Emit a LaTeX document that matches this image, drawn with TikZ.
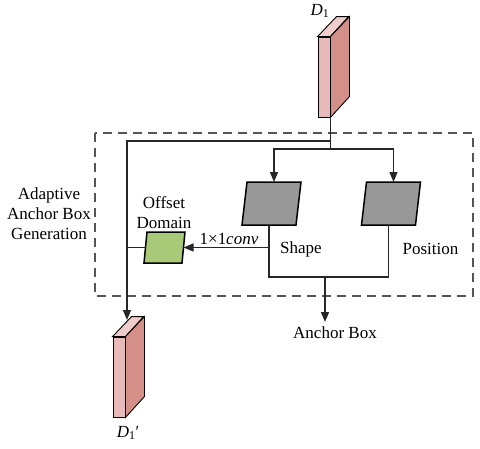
\documentclass[tikz,border=0pt]{standalone}
\usepackage{fontspec}
\setmainfont{Liberation Serif}
\usepackage{tikz}
\usetikzlibrary{arrows.meta, positioning, calc}
\definecolor{cfront}{RGB}{233,186,186}
\definecolor{cside}{RGB}{212,143,137}
\definecolor{ctop}{RGB}{240,205,203}
\definecolor{cgreen}{RGB}{168,201,120}
\definecolor{cgray}{RGB}{152,152,152}
\definecolor{cdash}{RGB}{85,85,85}

% feature map as a thin slab: name, centre of the front face
\newcommand{\featslab}[2]{%
    \node[slab] (#1) at (#2) {};
    \filldraw[fill=ctop, draw=black, line width=0.9pt] (#1.north west) -- ++(19,-20) -- ++(12,0) -- (#1.north east) -- cycle;
    \filldraw[fill=cside, draw=black, line width=0.9pt] (#1.north east) -- ++(19,-20) -- ++(0,80) -- (#1.south east) -- cycle;
}
% slanted head: name, centre, width, height, half slant, fill
\newcommand{\slanthead}[6]{%
    \node[headbox, minimum width=#3, minimum height=#4] (#1) at (#2) {};
    \filldraw[fill=#6, draw=black, line width=1.5pt] ($(#1.north west)+(#5,0)$) -- ($(#1.north east)+(#5,0)$)
        -- ($(#1.south east)+(-#5,0)$) -- ($(#1.south west)+(-#5,0)$) -- cycle;
    \coordinate (#1-top) at ($(#1.north)+(#5,0)$);
    \coordinate (#1-bot) at ($(#1.south)+(-#5,0)$);
}

\begin{document}
\begin{tikzpicture}[
    x=1pt, y=-1pt,
    >={Triangle[length=10pt, width=8pt]},
    every node/.style={font=\fontsize{17}{20}\selectfont},
    line/.style={line width=1.3pt, black!85},
    slab/.style={draw, fill=cfront, line width=0.9pt, minimum width=12pt, minimum height=80pt, inner sep=0pt},
    headbox/.style={inner sep=0pt, outer sep=0pt},
]
    \useasboundingbox (0,0) rectangle (480,448);

    % Input and output feature maps
    \featslab{d1}{324,77}
    \featslab{d1p}{119,377}
    \node (d1lbl) at (320,11) {\textit{D}\textsubscript{1}};
    \node (d1plbl) at (128,433) {\textit{D}\textsubscript{1}′};

    % Dashed module frame
    \draw[cdash, line width=1.8pt, dash pattern=on 9pt off 6pt] (95,133) rectangle (473,296);
    \node[align=center] (modlbl) at (49,214) {Adaptive\\Anchor Box\\Generation};

    % Prediction heads
    \slanthead{shape}{271.5,203.5}{54pt}{43pt}{2.5}{cgray}
    \slanthead{pos}{391,203.5}{54pt}{43pt}{2.5}{cgray}
    \slanthead{offs}{164.5,247.5}{38pt}{31pt}{1.5}{cgreen}
    \node (shapelbl) at (301,249) {Shape};
    \node (poslbl) at (430.5,249) {Position};
    \node[align=center] (offslbl) at (164,213) {Offset\\Domain};
    \node (convlbl) at (229,239) {1×1\textit{conv}};
    \node (ablbl) at (335,333) {Anchor Box};

    \coordinate (tap) at (d1.south east |- 0,141);
    \coordinate (fork) at (d1.south east |- 0,149);
    \coordinate (merge) at (325,277);
    \coordinate (abin) at (325,322);
    \coordinate (d1pin) at (127,320);

    % Split to the heads
    \draw[line] (d1.south east) -- (fork);
    \draw[line, ->] (fork) -| (shape-top);
    \draw[line, ->] (fork) -| (pos-top);
    \draw[line, ->] (tap) -| (d1pin);

    % Merge to anchor box
    \draw[line] (shape-bot) |- (merge) -| (pos-bot);
    \draw[line, ->] (merge) -- (abin);

    % Offset branch
    \draw[line, ->] (shape-bot |- offs.east) -- (offs.east);
    \draw[line] (offs.west) -- (offs.west -| d1pin);
\end{tikzpicture}
\end{document}
